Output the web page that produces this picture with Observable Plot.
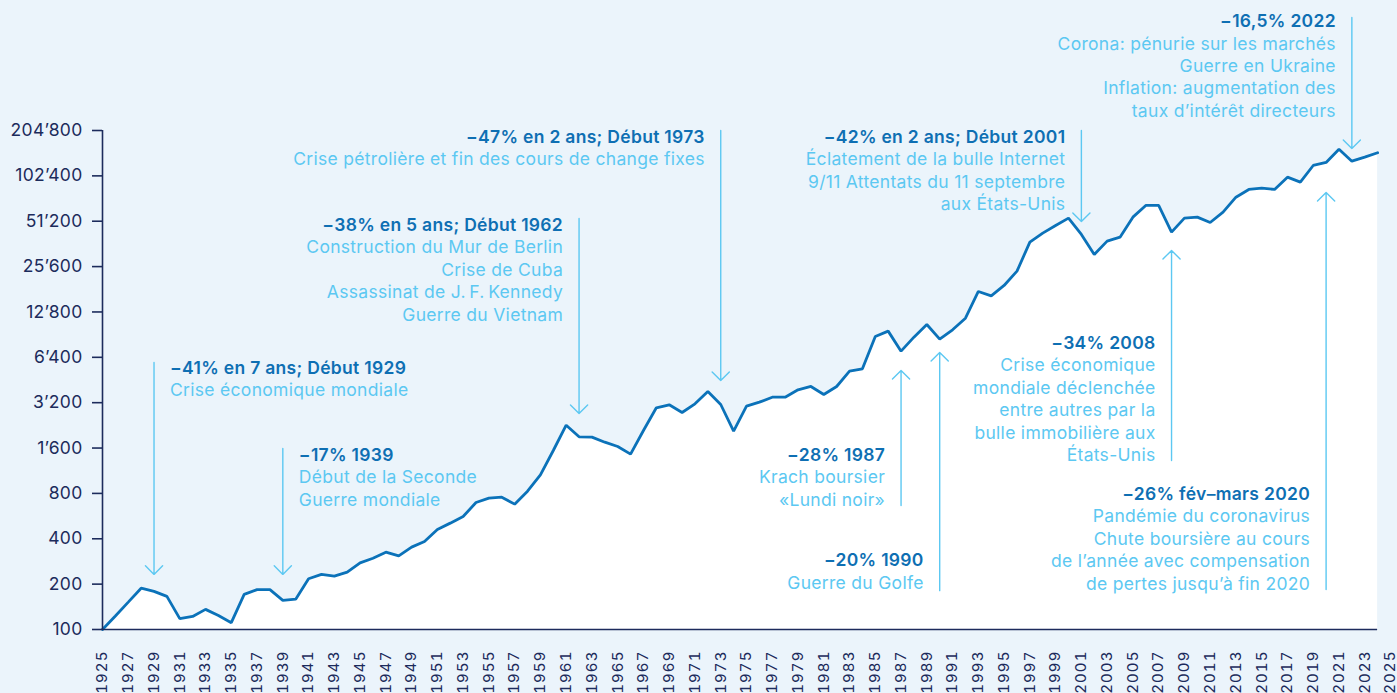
<!DOCTYPE html>
<html>
<head>
<meta charset="utf-8">
<script src="https://cdn.jsdelivr.net/npm/d3@7"></script>
<script src="https://cdn.jsdelivr.net/npm/@observablehq/plot@0.6"></script>
<style>
  html, body { margin: 0; padding: 0; background: #EBF4FB; }
  #chart { width: 1397px; height: 693px; overflow: hidden; }
  #chart svg .wide text, #chart svg text.wide, #chart svg .wide { letter-spacing: 0.3px; }
  #chart svg g[aria-label="x-axis tick label"] text { letter-spacing: 1.1px; }
</style>
</head>
<body>
<div id="chart"></div>
<script>
// ---- data ----
const years = d3.range(1925, 2025);
const values = [
  100, 123, 152, 188, 179, 166, 118, 122, 136, 124,
  111, 171, 184, 184, 156, 159, 217, 232, 226, 240,
  277, 297, 326, 308, 352, 384, 461, 508, 562, 696,
  744, 755, 679, 828, 1063, 1541, 2269, 1899, 1889, 1750,
  1639, 1457, 2092, 2959, 3097, 2754, 3146, 3797, 3112, 2070,
  3033, 3225, 3480, 3480, 3897, 4099, 3628, 4099, 5180, 5372,
  8800, 9549, 7034, 8707, 10573, 8445, 9750, 11640, 17503, 16384,
  19190, 23880, 37190, 42670, 47990, 53700, 41820, 30810, 37770, 40150,
  54500, 65150, 65150, 43330, 53700, 54500, 50230, 58800, 73900, 83200,
  84900, 83200, 100400, 93100, 120000, 125700, 154000, 128200, 136300, 145700
];
const yTicks = [100, 200, 400, 800, 1600, 3200, 6400, 12800, 25600, 51200, 102400, 204800];
const xTicks = d3.range(1925, 2026, 2);

// annotations
const annYears     = [1929, 1939, 1962, 1973, 2001, 2022, 1987, 1990, 2008, 2020];
const annSides     = ["start", "start", "end", "end", "end", "end", "end", "end", "end", "end"];
const annArrowFrom = [5914, 1590, 53400, 204800, 204800, 1150000, 665, 181, 1323, 184];
const annArrowTo   = [232, 232, 2713, 4492, 51000, 155400, 5234, 6890, 32750, 79470];
const annTextAt    = [5397, 1428, 47990, 184100, 184100, 1083000, 1428, 287, 7909, 787];
const annTitles = [
  "−41% en 7 ans; Début 1929",
  "−17% 1939",
  "−38% en 5 ans; Début 1962",
  "−47% en 2 ans; Début 1973",
  "−42% en 2 ans; Début 2001",
  "−16,5% 2022",
  "−28% 1987",
  "−20% 1990",
  "−34% 2008",
  "−26% fév–mars 2020"
];
const annBodies = [
  ["Crise économique mondiale"],
  ["Début de la Seconde", "Guerre mondiale"],
  ["Construction du Mur de Berlin", "Crise de Cuba", "Assassinat de J.\u2009F.\u2009Kennedy", "Guerre du Vietnam"],
  ["Crise pétrolière et fin des cours de change fixes"],
  ["Éclatement de la bulle Internet", "9/11 Attentats du 11 septembre", "aux États-Unis"],
  ["Corona: pénurie sur les marchés", "Guerre en Ukraine", "Inflation: augmentation des", "taux d’intérêt directeurs"],
  ["Krach boursier", "«Lundi noir»"],
  ["Guerre du Golfe"],
  ["Crise économique", "mondiale déclenchée", "entre autres par la", "bulle immobilière aux", "États-Unis"],
  ["Pandémie du coronavirus", "Chute boursière au cours", "de l’année avec compensation", "de pertes jusqu’à fin 2020"]
];

// ---- build tables ----
const series = years.map((year, i) => ({year, value: values[i]}));
const arrows = annYears.map((year, i) => ({year, from: annArrowFrom[i], to: annArrowTo[i]}));
const lines = annYears.flatMap((year, i) =>
  [annTitles[i], ...annBodies[i]].map((text, k) => ({year, y: annTextAt[i], side: annSides[i], k, text}))
);

const navy = "#1C2B5C";
const lineBlue = "#0B72B9";
const light = "#5CC8F2";
const head = "#0E6FB3";
const FS = 17.5;
const LH = 22.4;
const FONT = "Inter, 'Open Sans', sans-serif";

const fmt = d3.formatLocale({decimal: ".", thousands: "’", grouping: [3], currency: ["", ""]}).format(",");

const textMarks = [];
for (const side of ["start", "end"]) {
  for (let k = 0; k < 6; k++) {
    const rows = lines.filter(d => d.side === side && d.k === k);
    if (!rows.length) continue;
    textMarks.push(Plot.text(rows, {
      x: "year", y: "y", text: "text",
      textAnchor: side,
      dx: side === "start" ? 16 : -16,
      dy: k * LH,
      lineAnchor: "middle",
      fontSize: FS,
      fontFamily: FONT,
      fontWeight: k === 0 ? 600 : 400,
      fill: k === 0 ? head : light,
      className: "wide"
    }));
  }
}

const chart = Plot.plot({
  width: 1397,
  height: 693,
  marginLeft: 102,
  marginRight: 7,
  marginTop: 130,
  marginBottom: 64,
  style: {background: "transparent", fontFamily: FONT, overflow: "visible"},
  x: {domain: [1925, 2025], axis: null},
  y: {type: "log", domain: [100, 204800], axis: null},
  marks: [
    Plot.areaY(series, {x: "year", y1: 100, y2: "value", fill: "#FFFFFF"}),
    Plot.line(series, {x: "year", y: "value", stroke: lineBlue, strokeWidth: 2.8, strokeLinejoin: "miter"}),
    Plot.ruleX([1925], {y1: 100, y2: 204800, stroke: navy, strokeWidth: 1.6}),
    Plot.ruleY([100], {x1: 1925, x2: 2024, stroke: navy, strokeWidth: 1.6}),
    Plot.axisY({
      ticks: yTicks, tickFormat: () => "", tickSize: 10, tickPadding: 0,
      color: navy, label: null, strokeWidth: 1.6
    }),
    Plot.text(yTicks, {
      x: 1925, y: d => d, text: d => fmt(d), textAnchor: "end", dx: -20,
      fontSize: FS, fontFamily: FONT, fill: navy, className: "wide"
    }),
    Plot.axisX({
      ticks: xTicks, tickFormat: d => String(d), tickRotate: -90, tickSize: 0, tickPadding: 21,
      fontSize: 15, fontFamily: FONT, color: navy, label: null
    }),
    Plot.arrow(arrows, {
      x1: "year", x2: "year", y1: "from", y2: "to",
      stroke: light, strokeWidth: 1.4, headAngle: 90, headLength: 13
    }),
    ...textMarks
  ]
});
document.getElementById("chart").appendChild(chart);
</script>
</body>
</html>
